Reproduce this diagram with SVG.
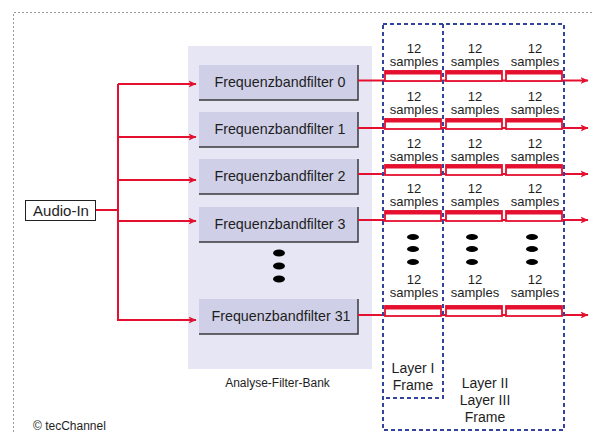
<svg xmlns="http://www.w3.org/2000/svg" width="594" height="432" viewBox="0 0 594 432">
  <style>
    text { font-family: "Liberation Sans", Arial, sans-serif; fill: #1e1e1e; }
    .flt { fill: #cfd0e8; }
    .shade { stroke: #3a3a3a; stroke-width: 1.5; fill: none; }
    .flabel { font-size: 14.3px; text-anchor: middle; }
    .red { stroke: #e5102f; stroke-width: 2; fill: none; }
    .smp { font-size: 13px; text-anchor: middle; }
    .frame { stroke: #34449c; stroke-width: 2; fill: none; stroke-dasharray: 4 3; }
    .dot { fill: #000; }
    .lay { font-size: 14px; text-anchor: middle; }
  </style>
  <defs>
    <marker id="arr" viewBox="0 0 8 8" refX="7.5" refY="4" markerWidth="8" markerHeight="8" markerUnits="userSpaceOnUse" orient="auto">
      <path d="M0,0.5 L8,4 L0,7.5 L2,4 z" fill="#e5102f"/>
    </marker>
    <!-- one block of 12 samples: thick top bar, thin sides, white inside -->
    <g id="blockShape">
      <rect x="0" y="0" width="56" height="10" fill="#fff" stroke="#e5102f" stroke-width="1.8"/>
      <rect x="0" y="-0.5" width="56" height="4" fill="#e5102f"/>
    </g>
  </defs>

  <rect width="594" height="432" fill="#fff"/>
  <!-- outer page border -->
  <path d="M13.5,440 V12.5 H600" fill="none" stroke="#9a9a9a" stroke-width="1" stroke-dasharray="2 2"/>

  <!-- filter bank panel -->
  <g id="filterbank">
    <rect x="188" y="46" width="184" height="323" fill="#e6e6f4"/>
    <text x="277.5" y="387" font-size="12" text-anchor="middle">Analyse-Filter-Bank</text>
  </g>

  <g id="audio-in">
    <rect x="25.5" y="200.5" width="70" height="20" fill="#fff" stroke="#222" stroke-width="1"/>
    <text x="61" y="216" font-size="15" text-anchor="middle">Audio-In</text>
  </g>

  <g id="filter0">
    <rect class="flt" x="199" y="65" width="159" height="35"/>
    <path class="shade" d="M199,100 H358 V65"/>
    <text class="flabel" x="280" y="87">Frequenzbandfilter 0</text>
  </g>
  <g id="filter1">
    <rect class="flt" x="199" y="112" width="159" height="35"/>
    <path class="shade" d="M199,147 H358 V112"/>
    <text class="flabel" x="280" y="134">Frequenzbandfilter 1</text>
  </g>
  <g id="filter2">
    <rect class="flt" x="199" y="159" width="159" height="35"/>
    <path class="shade" d="M199,194 H358 V159"/>
    <text class="flabel" x="280" y="181">Frequenzbandfilter 2</text>
  </g>
  <g id="filter3">
    <rect class="flt" x="199" y="207" width="159" height="35"/>
    <path class="shade" d="M199,242 H358 V207"/>
    <text class="flabel" x="280" y="229">Frequenzbandfilter 3</text>
  </g>
  <g id="filter-dots">
    <ellipse class="dot" cx="279" cy="253" rx="6" ry="3.5"/>
    <ellipse class="dot" cx="279" cy="266" rx="6" ry="3.5"/>
    <ellipse class="dot" cx="279" cy="279" rx="6" ry="3.5"/>
  </g>
  <g id="filter31">
    <rect class="flt" x="199" y="299" width="159" height="35"/>
    <path class="shade" d="M199,334 H358 V299"/>
    <text class="flabel" x="281" y="321">Frequenzbandfilter 31</text>
  </g>

  <!-- connectors -->
  <g id="connectors">
    <path class="red" d="M96,210 H118"/>
    <path class="red" d="M118,84 V321"/>
    <path class="red" d="M118,84 H196" marker-end="url(#arr)"/>
    <path class="red" d="M118,137 H196" marker-end="url(#arr)"/>
    <path class="red" d="M118,180 H196" marker-end="url(#arr)"/>
    <path class="red" d="M118,221 H196" marker-end="url(#arr)"/>
    <path class="red" d="M118,320 H196" marker-end="url(#arr)"/>

    <path class="red" d="M358,80.5 H588" marker-end="url(#arr)"/>
    <path class="red" d="M358,128 H588" marker-end="url(#arr)"/>
    <path class="red" d="M358,174 H588" marker-end="url(#arr)"/>
    <path class="red" d="M358,220 H588" marker-end="url(#arr)"/>
    <path class="red" d="M358,315 H588" marker-end="url(#arr)"/>
  </g>

  <!-- sample blocks per subband -->
  <g id="samples0">
    <use href="#blockShape" x="385" y="71"/>
    <use href="#blockShape" x="446" y="71"/>
    <use href="#blockShape" x="506" y="71"/>
    <text class="smp" x="414" y="53">12</text><text class="smp" x="414" y="66">samples</text>
    <text class="smp" x="475" y="53">12</text><text class="smp" x="475" y="66">samples</text>
    <text class="smp" x="535" y="53">12</text><text class="smp" x="535" y="66">samples</text>
  </g>
  <g id="samples1">
    <use href="#blockShape" x="385" y="119"/>
    <use href="#blockShape" x="446" y="119"/>
    <use href="#blockShape" x="506" y="119"/>
    <text class="smp" x="414" y="101">12</text><text class="smp" x="414" y="114">samples</text>
    <text class="smp" x="475" y="101">12</text><text class="smp" x="475" y="114">samples</text>
    <text class="smp" x="535" y="101">12</text><text class="smp" x="535" y="114">samples</text>
  </g>
  <g id="samples2">
    <use href="#blockShape" x="385" y="165"/>
    <use href="#blockShape" x="446" y="165"/>
    <use href="#blockShape" x="506" y="165"/>
    <text class="smp" x="414" y="148">12</text><text class="smp" x="414" y="161">samples</text>
    <text class="smp" x="475" y="148">12</text><text class="smp" x="475" y="161">samples</text>
    <text class="smp" x="535" y="148">12</text><text class="smp" x="535" y="161">samples</text>
  </g>
  <g id="samples3">
    <use href="#blockShape" x="385" y="211"/>
    <use href="#blockShape" x="446" y="211"/>
    <use href="#blockShape" x="506" y="211"/>
    <text class="smp" x="414" y="193">12</text><text class="smp" x="414" y="206">samples</text>
    <text class="smp" x="475" y="193">12</text><text class="smp" x="475" y="206">samples</text>
    <text class="smp" x="535" y="193">12</text><text class="smp" x="535" y="206">samples</text>
  </g>
  <g id="sample-dots">
    <ellipse class="dot" cx="413" cy="237" rx="6" ry="3"/>
    <ellipse class="dot" cx="413" cy="249" rx="6" ry="3"/>
    <ellipse class="dot" cx="413" cy="262" rx="6" ry="3"/>
    <ellipse class="dot" cx="472" cy="237" rx="6" ry="3"/>
    <ellipse class="dot" cx="472" cy="249" rx="6" ry="3"/>
    <ellipse class="dot" cx="472" cy="262" rx="6" ry="3"/>
    <ellipse class="dot" cx="532" cy="237" rx="6" ry="3"/>
    <ellipse class="dot" cx="532" cy="249" rx="6" ry="3"/>
    <ellipse class="dot" cx="532" cy="262" rx="6" ry="3"/>
  </g>
  <g id="samples31">
    <use href="#blockShape" x="385" y="306"/>
    <use href="#blockShape" x="446" y="306"/>
    <use href="#blockShape" x="506" y="306"/>
    <text class="smp" x="414" y="284">12</text><text class="smp" x="414" y="297">samples</text>
    <text class="smp" x="475" y="284">12</text><text class="smp" x="475" y="297">samples</text>
    <text class="smp" x="535" y="284">12</text><text class="smp" x="535" y="297">samples</text>
  </g>

  <!-- frame boundaries -->
  <g id="frame-layer1">
    <path class="frame" d="M443,24 V398 H383"/>
    <text class="lay" x="413" y="373">Layer I</text>
    <text class="lay" x="413" y="390">Frame</text>
  </g>
  <g id="frame-layer23">
    <rect class="frame" x="383" y="24" width="181" height="406"/>
    <text class="lay" x="485" y="388">Layer II</text>
    <text class="lay" x="485" y="405">Layer III</text>
    <text class="lay" x="485" y="422">Frame</text>
  </g>

  <text x="33" y="430" font-size="12">© tecChannel</text>
</svg>
